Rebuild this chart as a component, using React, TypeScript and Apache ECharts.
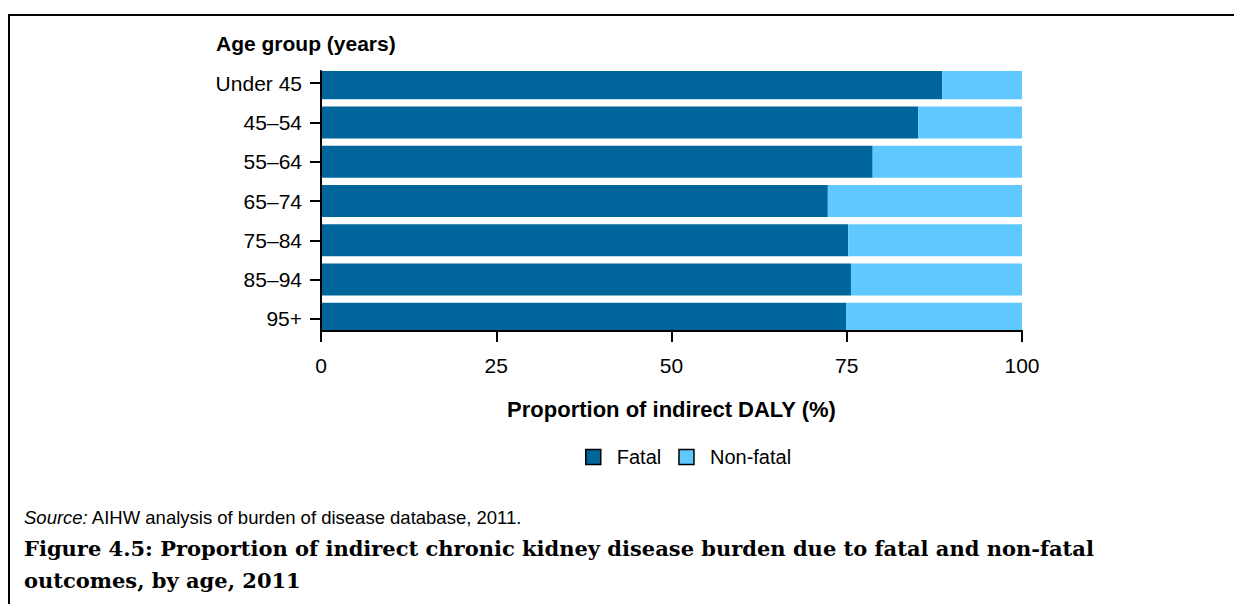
import React, { useEffect, useRef } from 'react';
import * as echarts from 'echarts';

const categories = ['Under 45', '45–54', '55–64', '65–74', '75–84', '85–94', '95+'];
const fatal = [88.6, 85.2, 78.7, 72.3, 75.2, 75.6, 74.9];
const nonFatal = [11.4, 14.8, 21.3, 27.7, 24.8, 24.4, 25.1];
const seriesNames = ['Fatal', 'Non-fatal'];
const seriesColors = ['#00659A', '#5FC9FF'];
const yAxisTitle = 'Age group (years)';
const xAxisTitle = 'Proportion of indirect DALY (%)';
const sourceLabel = 'Source:';
const sourceText = 'AIHW analysis of burden of disease database, 2011.';
const captionLines = [
  'Figure 4.5: Proportion of indirect chronic kidney disease burden due to fatal and non-fatal',
  'outcomes, by age, 2011',
];

const SANS = '"Liberation Sans", Arial, sans-serif';
const SERIF = '"DejaVu Serif", serif';

const renderBar = (params: any, api: any) => {
  const idx = api.value(0);
  const p0 = api.coord([api.value(1), idx]);
  const p1 = api.coord([api.value(2), idx]);
  const h = api.size([0, 1])[1] * 0.815;
  const cs = params.coordSys;
  const shape = echarts.graphic.clipRectByRect(
    { x: p0[0], y: p0[1] - h / 2, width: p1[0] - p0[0], height: h },
    { x: cs.x, y: cs.y, width: cs.width, height: cs.height }
  );
  if (!shape) return null;
  return { type: 'rect', shape, style: api.style() };
};

export default function App() {
  const ref = useRef<HTMLDivElement>(null);
  useEffect(() => {
    if (!ref.current) return;
    const chart = echarts.init(ref.current, undefined, { renderer: 'svg' });
    const idxs = categories.map((_, i) => i);
    const option: any = {
      animation: false,
      backgroundColor: '#fff',
      title: {
        text: yAxisTitle,
        left: 216,
        top: 33,
        padding: 0,
        textStyle: { fontSize: 21, fontWeight: 'bold', color: '#000', fontFamily: SANS },
      },
      legend: {
        data: seriesNames,
        left: 585,
        top: 447,
        padding: 0,
        icon: 'rect',
        itemWidth: 15,
        itemHeight: 15,
        itemGap: 17,
        itemStyle: { borderColor: '#000', borderWidth: 1.5 },
        textStyle: { fontSize: 20, color: '#000', fontFamily: SANS, padding: [0, 0, 0, 11] },
      },
      grid: { left: 321, right: 212, top: 71, height: 260, containLabel: false, outerBoundsMode: 'none' },
      xAxis: {
        type: 'value',
        min: 0,
        max: 100,
        interval: 25,
        position: 'bottom',
        z: 10,
        axisLine: { show: true, onZero: false, lineStyle: { color: '#000', width: 2 } },
        axisTick: { show: true, length: 11, lineStyle: { color: '#000', width: 2 } },
        axisLabel: { fontSize: 21, color: '#000', margin: 24, fontFamily: SANS },
        splitLine: { show: false },
        name: xAxisTitle,
        nameLocation: 'middle',
        nameGap: 67,
        nameTextStyle: { fontSize: 22, fontWeight: 'bold', color: '#000', fontFamily: SANS },
      },
      yAxis: {
        type: 'value',
        inverse: true,
        min: -0.31,
        max: 6.31,
        position: 'left',
        z: 10,
        axisLine: { show: true, onZero: false, lineStyle: { color: '#000', width: 2 } },
        axisTick: { show: true, length: 11, customValues: idxs, lineStyle: { color: '#000', width: 2 } },
        axisLabel: {
          customValues: idxs,
          fontSize: 21,
          color: '#000',
          margin: 19,
          fontFamily: SANS,
          formatter: (v: number) => categories[Math.round(v)] ?? '',
        },
        splitLine: { show: false },
      },
      series: [
        {
          name: seriesNames[0],
          type: 'custom',
          renderItem: renderBar,
          itemStyle: { color: seriesColors[0] },
          encode: { x: [1, 2], y: 0 },
          data: idxs.map((i) => [i, 0, fatal[i]]),
          z: 2,
        },
        {
          name: seriesNames[1],
          type: 'custom',
          renderItem: renderBar,
          itemStyle: { color: seriesColors[1] },
          encode: { x: [1, 2], y: 0 },
          data: idxs.map((i) => [i, fatal[i], fatal[i] + nonFatal[i]]),
          z: 2,
        },
      ],
      graphic: [
        {
          type: 'rect',
          silent: true,
          shape: { x: 9, y: 15, width: 1240, height: 600 },
          style: { fill: 'none', stroke: '#000', lineWidth: 2 },
        },
        {
          type: 'text',
          x: 24,
          y: 517,
          style: {
            text: '{i|' + sourceLabel + '} ' + sourceText,
            rich: { i: { fontStyle: 'italic', fontSize: 18.5, fontFamily: SANS, fill: '#000' } },
            fontSize: 18.5,
            fontFamily: SANS,
            fill: '#000',
            verticalAlign: 'middle',
          },
        },
        {
          type: 'text',
          x: 24,
          y: 548,
          style: {
            text: captionLines[0],
            fontSize: 21,
            fontWeight: 'bold',
            fontFamily: SERIF,
            fill: '#000',
            verticalAlign: 'middle',
          },
        },
        {
          type: 'text',
          x: 24,
          y: 580,
          style: {
            text: captionLines[1],
            fontSize: 21,
            fontWeight: 'bold',
            fontFamily: SERIF,
            fill: '#000',
            verticalAlign: 'middle',
          },
        },
      ],
    };
    chart.setOption(option);
    return () => chart.dispose();
  }, []);
  return (
    <div
      ref={ref}
      style={{ position: 'fixed', left: 0, top: 0, width: '1234px', height: '604px', background: '#fff' }}
    />
  );
}
